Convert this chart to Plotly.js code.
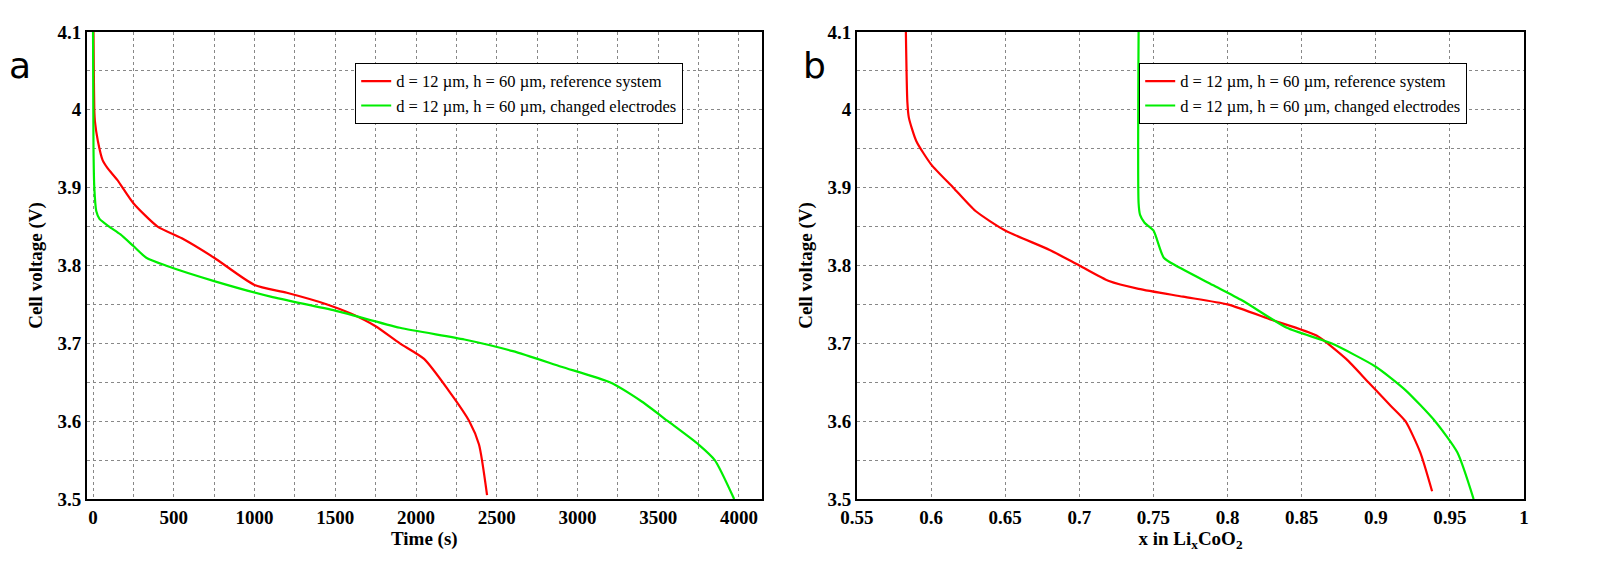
<!DOCTYPE html>
<html><head><script src="https://cdn.plot.ly/plotly-3.0.1.min.js"></script>
<style>body{margin:0}</style></head><body><div id="c" style="width:1600px;height:571px"></div>
<script>
const redT=[3,5,8,12,30,60,90,150,250,400,550,750,1000,1200,1450,1600,1750,1900,2050,2200,2330,2390,2440];
const redTV=[4.1,4.05,4.0,3.985,3.96,3.935,3.925,3.91,3.88,3.85,3.835,3.81,3.775,3.765,3.75,3.738,3.722,3.7,3.68,3.64,3.6,3.57,3.505];
const grnT=[0,1,3,8,20,40,100,170,250,330,450,750,1100,1500,1900,2300,2600,2900,3200,3400,3560,3750,3850,3970];
const grnTV=[4.1,4.05,3.95,3.9,3.87,3.86,3.85,3.84,3.825,3.81,3.8,3.78,3.76,3.742,3.72,3.705,3.69,3.67,3.65,3.625,3.6,3.57,3.55,3.5];
const redX=[0.583,0.584,0.585,0.59,0.6,0.615,0.63,0.65,0.68,0.7,0.72,0.74,0.77,0.8,0.83,0.86,0.88,0.895,0.91,0.92,0.93,0.938];
const redXV=[4.1,4.01,3.99,3.96,3.93,3.9,3.87,3.845,3.82,3.8,3.78,3.77,3.76,3.75,3.73,3.71,3.68,3.65,3.62,3.6,3.56,3.51];
const grnX=[0.74,0.74,0.741,0.744,0.75,0.757,0.765,0.79,0.81,0.84,0.87,0.9,0.92,0.94,0.955,0.966];
const grnXV=[4.1,3.88,3.865,3.855,3.845,3.81,3.8,3.775,3.755,3.72,3.7,3.67,3.64,3.6,3.56,3.5];
const names=["d = 12 µm, h = 60 µm, reference system","d = 12 µm, h = 60 µm, changed electrodes"];
const RED='#ff0000', GRN='#00ee00';
const tf={family:'Liberation Serif',size:19,color:'#000',weight:700};
const ttf={family:'Liberation Serif',size:19,color:'#000',weight:700};
const ln=c=>({color:c,width:2.2,shape:'spline',smoothing:0.6});
const data=[
 {x:redT,y:redTV,name:names[0],line:ln(RED),mode:'lines',xaxis:'x',yaxis:'y',legend:'legend'},
 {x:grnT,y:grnTV,name:names[1],line:ln(GRN),mode:'lines',xaxis:'x',yaxis:'y',legend:'legend'},
 {x:redX,y:redXV,name:names[0],line:ln(RED),mode:'lines',xaxis:'x2',yaxis:'y2',legend:'legend2'},
 {x:grnX,y:grnXV,name:names[1],line:ln(GRN),mode:'lines',xaxis:'x2',yaxis:'y2',legend:'legend2'}];
const ax={showline:true,mirror:'all',linecolor:'#000',linewidth:2,ticks:'',zeroline:false,showgrid:true,gridcolor:'#888',griddash:'dot',gridwidth:1,tickfont:tf};
const yax=Object.assign({},ax,{range:[3.5,4.1],dtick:0.1,tick0:3.5,minor:{dtick:0.05,showgrid:true,gridcolor:'#888',griddash:'dot'},
  title:{text:'Cell voltage (V)',font:ttf,standoff:10}});
const lg={font:{family:'Liberation Serif',size:16.5,color:'#000'},bordercolor:'#000',borderwidth:1,bgcolor:'#fff',xanchor:'left',yanchor:'top',tracegroupgap:0};
const layout={margin:{l:0,r:0,t:0,b:0},paper_bgcolor:'#fff',plot_bgcolor:'#fff',
 xaxis:Object.assign({},ax,{domain:[0.0544,0.476],range:[-37,4140],dtick:500,tick0:0,minor:{dtick:250,showgrid:true,gridcolor:'#888',griddash:'dot'},anchor:'y',
   title:{text:'Time (s)',font:ttf,standoff:3}}),
 yaxis:Object.assign({},yax,{domain:[0.126,0.944],anchor:'x'}),
 xaxis2:Object.assign({},ax,{domain:[0.5356,0.9525],range:[0.55,1],dtick:0.05,tick0:0.55,anchor:'y2',
   title:{text:'x in Li<sub>x</sub>CoO<sub>2</sub>',font:ttf,standoff:3}}),
 yaxis2:Object.assign({},yax,{domain:[0.126,0.944],anchor:'x2'}),
 legend:Object.assign({},lg,{x:0.222,y:0.89}),
 legend2:Object.assign({},lg,{x:0.712,y:0.89}),
 annotations:[
  {text:'a',xref:'paper',yref:'paper',x:0.0125,y:0.885,showarrow:false,font:{family:'DejaVu Sans',size:36,color:'#000'},xanchor:'center',yanchor:'middle'},
  {text:'b',xref:'paper',yref:'paper',x:0.509,y:0.885,showarrow:false,font:{family:'DejaVu Sans',size:36,color:'#000'},xanchor:'center',yanchor:'middle'}]};
Plotly.newPlot('c',data,layout,{staticPlot:true});
</script></body></html>
